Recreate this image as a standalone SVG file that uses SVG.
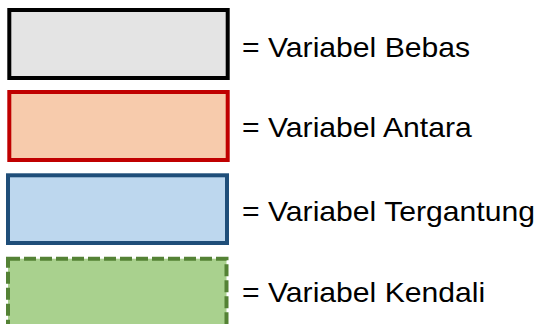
<svg xmlns="http://www.w3.org/2000/svg" width="539" height="324" viewBox="0 0 539 324">
  <style>
    .box { stroke-width: 4; }
    .label { font-family: "Liberation Sans", Arial, sans-serif; font-size: 28px; fill: #000000; }
  </style>
  <rect width="539" height="324" fill="#ffffff"/>
  <g id="bebas">
    <rect class="box" x="9.3" y="10" width="218.4" height="68" fill="#E4E4E4" stroke="#000000"/>
    <text class="label" transform="translate(242 56.7) scale(1.077 1)">= Variabel Bebas</text>
  </g>
  <g id="antara">
    <rect class="box" x="9.3" y="92" width="218.4" height="68" fill="#F7CBAC" stroke="#C00000"/>
    <text class="label" transform="translate(242 136.7) scale(1.077 1)">= Variabel Antara</text>
  </g>
  <g id="tergantung">
    <rect class="box" x="8" y="175.3" width="219" height="67.7" fill="#BDD7EE" stroke="#1F4E79"/>
    <text class="label" transform="translate(242 221) scale(1.077 1)">= Variabel Tergantung</text>
  </g>
  <g id="kendali">
    <rect class="box" x="8" y="258.7" width="218.5" height="90" fill="#A9D18E" stroke="#548235" stroke-dasharray="12 4"/>
    <text class="label" transform="translate(242 301.7) scale(1.077 1)">= Variabel Kendali</text>
  </g>
</svg>
